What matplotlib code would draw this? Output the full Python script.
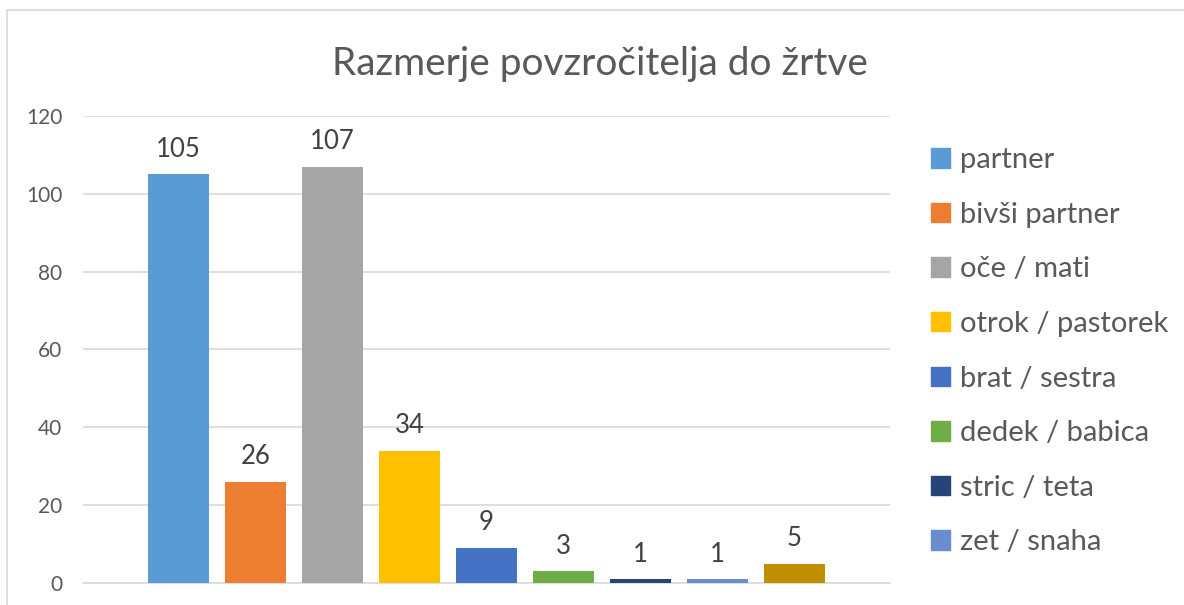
import numpy as np
import matplotlib.pyplot as plt
from matplotlib.lines import Line2D

# data
categories = ["partner", "bivši partner", "oče / mati", "otrok / pastorek",
              "brat / sestra", "dedek / babica", "stric / teta", "zet / snaha", ""]
values = [105, 26, 107, 34, 9, 3, 1, 1, 5]
colors = ["#5b9bd5", "#ed7d31", "#a5a5a5", "#ffc000", "#4472c4",
          "#70ad47", "#264478", "#698ed0", "#bf8f00"]
y_ticks = [0, 20, 40, 60, 80, 100, 120]

plt.rcParams['font.family'] = ['Lato', 'DejaVu Sans']

fig = plt.figure(figsize=(11.84, 6.05), dpi=100)
ax = fig.add_axes([0.0701, 0.0364, 0.6816, 0.7719])

x = np.arange(len(values))
bars = ax.bar(x, values, width=0.79, color=colors, zorder=3)
for xi, v in zip(x, values):
    ax.text(xi, v + 3.2, str(v), ha='center', va='bottom',
            fontsize=18.5, color='#404040')

ax.set_xlim(-1.244, 9.244)
ax.set_ylim(0, 120)
ax.set_yticks(y_ticks)
ax.set_xticks([])
ax.tick_params(axis='y', length=0, pad=15, labelsize=15, labelcolor='#595959')
ax.yaxis.grid(True, color='#d9d9d9', linewidth=1.2, zorder=0)
for s in ['top', 'right', 'left']:
    ax.spines[s].set_visible(False)
ax.spines['bottom'].set_color('#d9d9d9')
ax.spines['bottom'].set_linewidth(1.2)

# legend (last bar has no entry)
handles = [plt.Rectangle((0, 0), 1, 1, color=c) for c in colors[:8]]
fig.legend(handles, categories[:8], loc='upper left',
           bbox_to_anchor=(0.7766, 0.776), frameon=False, fontsize=21,
           labelcolor='#595959', handlelength=0.65, handleheight=0.65,
           handletextpad=0.35, labelspacing=0.98, borderaxespad=0)

fig.text(0.507, 0.895, "Razmerje povzročitelja do žrtve", ha='center',
         va='center', fontsize=28, color='#595959')

# chart border
fig.add_artist(Line2D([0.006, 1.0], [0.983, 0.983], color='#d9d9d9', lw=1.2))
fig.add_artist(Line2D([0.006, 0.006], [0.0, 0.983], color='#d9d9d9', lw=1.2))

fig.savefig("out.png", dpi=100)
